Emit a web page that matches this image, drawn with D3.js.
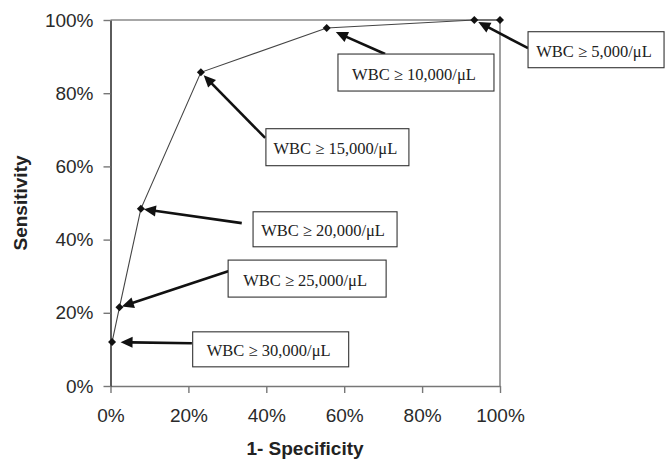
<!DOCTYPE html>
<html><head><meta charset="utf-8">
<script src="https://cdn.jsdelivr.net/npm/d3@7"></script>
<style>
html,body{margin:0;padding:0;background:#fff;}
svg{display:block;}
</style></head>
<body>
<svg id="chart" width="668" height="461"></svg>
<script>
// ---- data ----
const falsePositiveRate = [0.4, 2.3, 7.8, 23.2, 55.5, 93.4, 100];   // 1 - specificity (%)
const sensitivity       = [12.0, 21.5, 48.4, 85.7, 97.8, 100, 100]; // %
const cutoffLabels      = ["WBC \u2265 30,000/\u03BCL", "WBC \u2265 25,000/\u03BCL", "WBC \u2265 20,000/\u03BCL",
                           "WBC \u2265 15,000/\u03BCL", "WBC \u2265 10,000/\u03BCL", "WBC \u2265 5,000/\u03BCL", null];
const tickValues = [0, 20, 40, 60, 80, 100];
const xTitle = "1- Specificity";
const yTitle = "Sensitivity";

// ---- annotation layout (box top-left & arrow tail in data units, sizes in px) ----
const annLayout = [
  {i:0, bx:21.1, by:14.8, w:156, h:35, tx:20.9, ty:11.7, gap:8.5},
  {i:1, bx:30.2, by:34.4, w:158, h:37, tx:30.4, ty:31.4, gap:2.5},
  {i:2, bx:36.6, by:47.6, w:144, h:35, tx:33.7, ty:44.5, gap:3},
  {i:3, bx:39.9, by:70.3, w:143, h:37, tx:39.7, ty:67.8, gap:4},
  {i:4, bx:58.4, by:90.7, w:156, h:37, tx:70.5, ty:90.7, gap:10},
  {i:5, bx:107.2,by:96.8, w:136, h:36, tx:107.2,ty:92.3, gap:4.5}
];

const margin = {left:110.5, top:20, right:168, bottom:75};
const W = 668, H = 461;
const svg = d3.select("#chart");

const x = d3.scaleLinear().domain([0,100]).range([110.5, 500]);
const y = d3.scaleLinear().domain([0,100]).range([386, 20]);

// frame top/right
svg.append("line").attr("x1", x(0)).attr("x2", x(100)).attr("y1", y(100)).attr("y2", y(100))
  .attr("stroke", "#8a8a8a").attr("stroke-width", 1.6);
svg.append("line").attr("x1", x(100)).attr("x2", x(100)).attr("y1", y(100)).attr("y2", y(0))
  .attr("stroke", "#8a8a8a").attr("stroke-width", 1.6);

const fmt = d => d + "%";
const gx = svg.append("g").attr("transform", `translate(0,${y(0)})`)
  .call(d3.axisBottom(x).tickValues(tickValues).tickFormat(fmt).tickSize(7).tickSizeOuter(0).tickPadding(16));
const gy = svg.append("g").attr("transform", `translate(${x(0)},0)`)
  .call(d3.axisLeft(y).tickValues(tickValues).tickFormat(fmt).tickSize(7).tickSizeOuter(0).tickPadding(10));

gx.select(".domain").attr("stroke", "#777").attr("stroke-width", 1.6);
gx.selectAll(".tick line").attr("stroke", "#777").attr("stroke-width", 1.4);
gy.select(".domain").attr("stroke", "#333").attr("stroke-width", 1.6);
gy.selectAll(".tick line").attr("stroke", "#777").attr("stroke-width", 1.4);
[gx, gy].forEach(g => g.selectAll("text")
  .attr("font-family", "Liberation Sans, Arial, sans-serif").attr("font-size", 19).attr("fill", "#2a2a2a"));

// axis titles
svg.append("text").attr("x", 305).attr("y", 455).attr("text-anchor", "middle")
  .attr("font-family", "Liberation Sans, Arial, sans-serif").attr("font-weight", "bold").attr("font-size", 19)
  .attr("fill", "#222").text(xTitle);
svg.append("text").attr("transform", `translate(27,203) rotate(-90)`).attr("text-anchor", "middle")
  .attr("font-family", "Liberation Sans, Arial, sans-serif").attr("font-weight", "bold").attr("font-size", 19)
  .attr("fill", "#222").text(yTitle);

// ROC line
const pts = falsePositiveRate.map((v, k) => [v, sensitivity[k]]);
svg.append("path").datum(pts)
  .attr("d", d3.line().x(d => x(d[0])).y(d => y(d[1])))
  .attr("fill", "none").attr("stroke", "#444").attr("stroke-width", 1.1);

// diamond markers
svg.selectAll("path.pt").data(pts).join("path").attr("class", "pt")
  .attr("transform", d => `translate(${x(d[0])},${y(d[1])})`)
  .attr("d", "M0,-4L4,0L0,4L-4,0Z").attr("fill", "#111");

// annotations
annLayout.forEach(a => {
  const px = x(falsePositiveRate[a.i]), py = y(sensitivity[a.i]);
  const tx = x(a.tx), ty = y(a.ty);
  const dx = tx - px, dy = ty - py, len = Math.hypot(dx, dy);
  const ux = dx / len, uy = dy / len;
  const tipX = px + ux * a.gap, tipY = py + uy * a.gap;
  const headL = 12, headW = 5.5;
  const baseX = tipX + ux * headL, baseY = tipY + uy * headL;
  svg.append("line").attr("x1", tx).attr("y1", ty).attr("x2", baseX - ux*1).attr("y2", baseY - uy*1)
    .attr("stroke", "#111").attr("stroke-width", 2.6);
  svg.append("path")
    .attr("d", `M${tipX},${tipY}L${baseX - uy*headW},${baseY + ux*headW}L${baseX + uy*headW},${baseY - ux*headW}Z`)
    .attr("fill", "#111");
  const bx = x(a.bx), by = y(a.by);
  svg.append("rect").attr("x", bx).attr("y", by).attr("width", a.w).attr("height", a.h)
    .attr("fill", "#fff").attr("stroke", "#333").attr("stroke-width", 1.1);
  svg.append("text").attr("x", bx + a.w/2 - 2).attr("y", by + a.h/2 + 7)
    .attr("text-anchor", "middle").attr("font-family", "Liberation Serif, Times New Roman, serif")
    .attr("font-size", 16.5).attr("fill", "#222").text(cutoffLabels[a.i]);
});
</script>
</body></html>
